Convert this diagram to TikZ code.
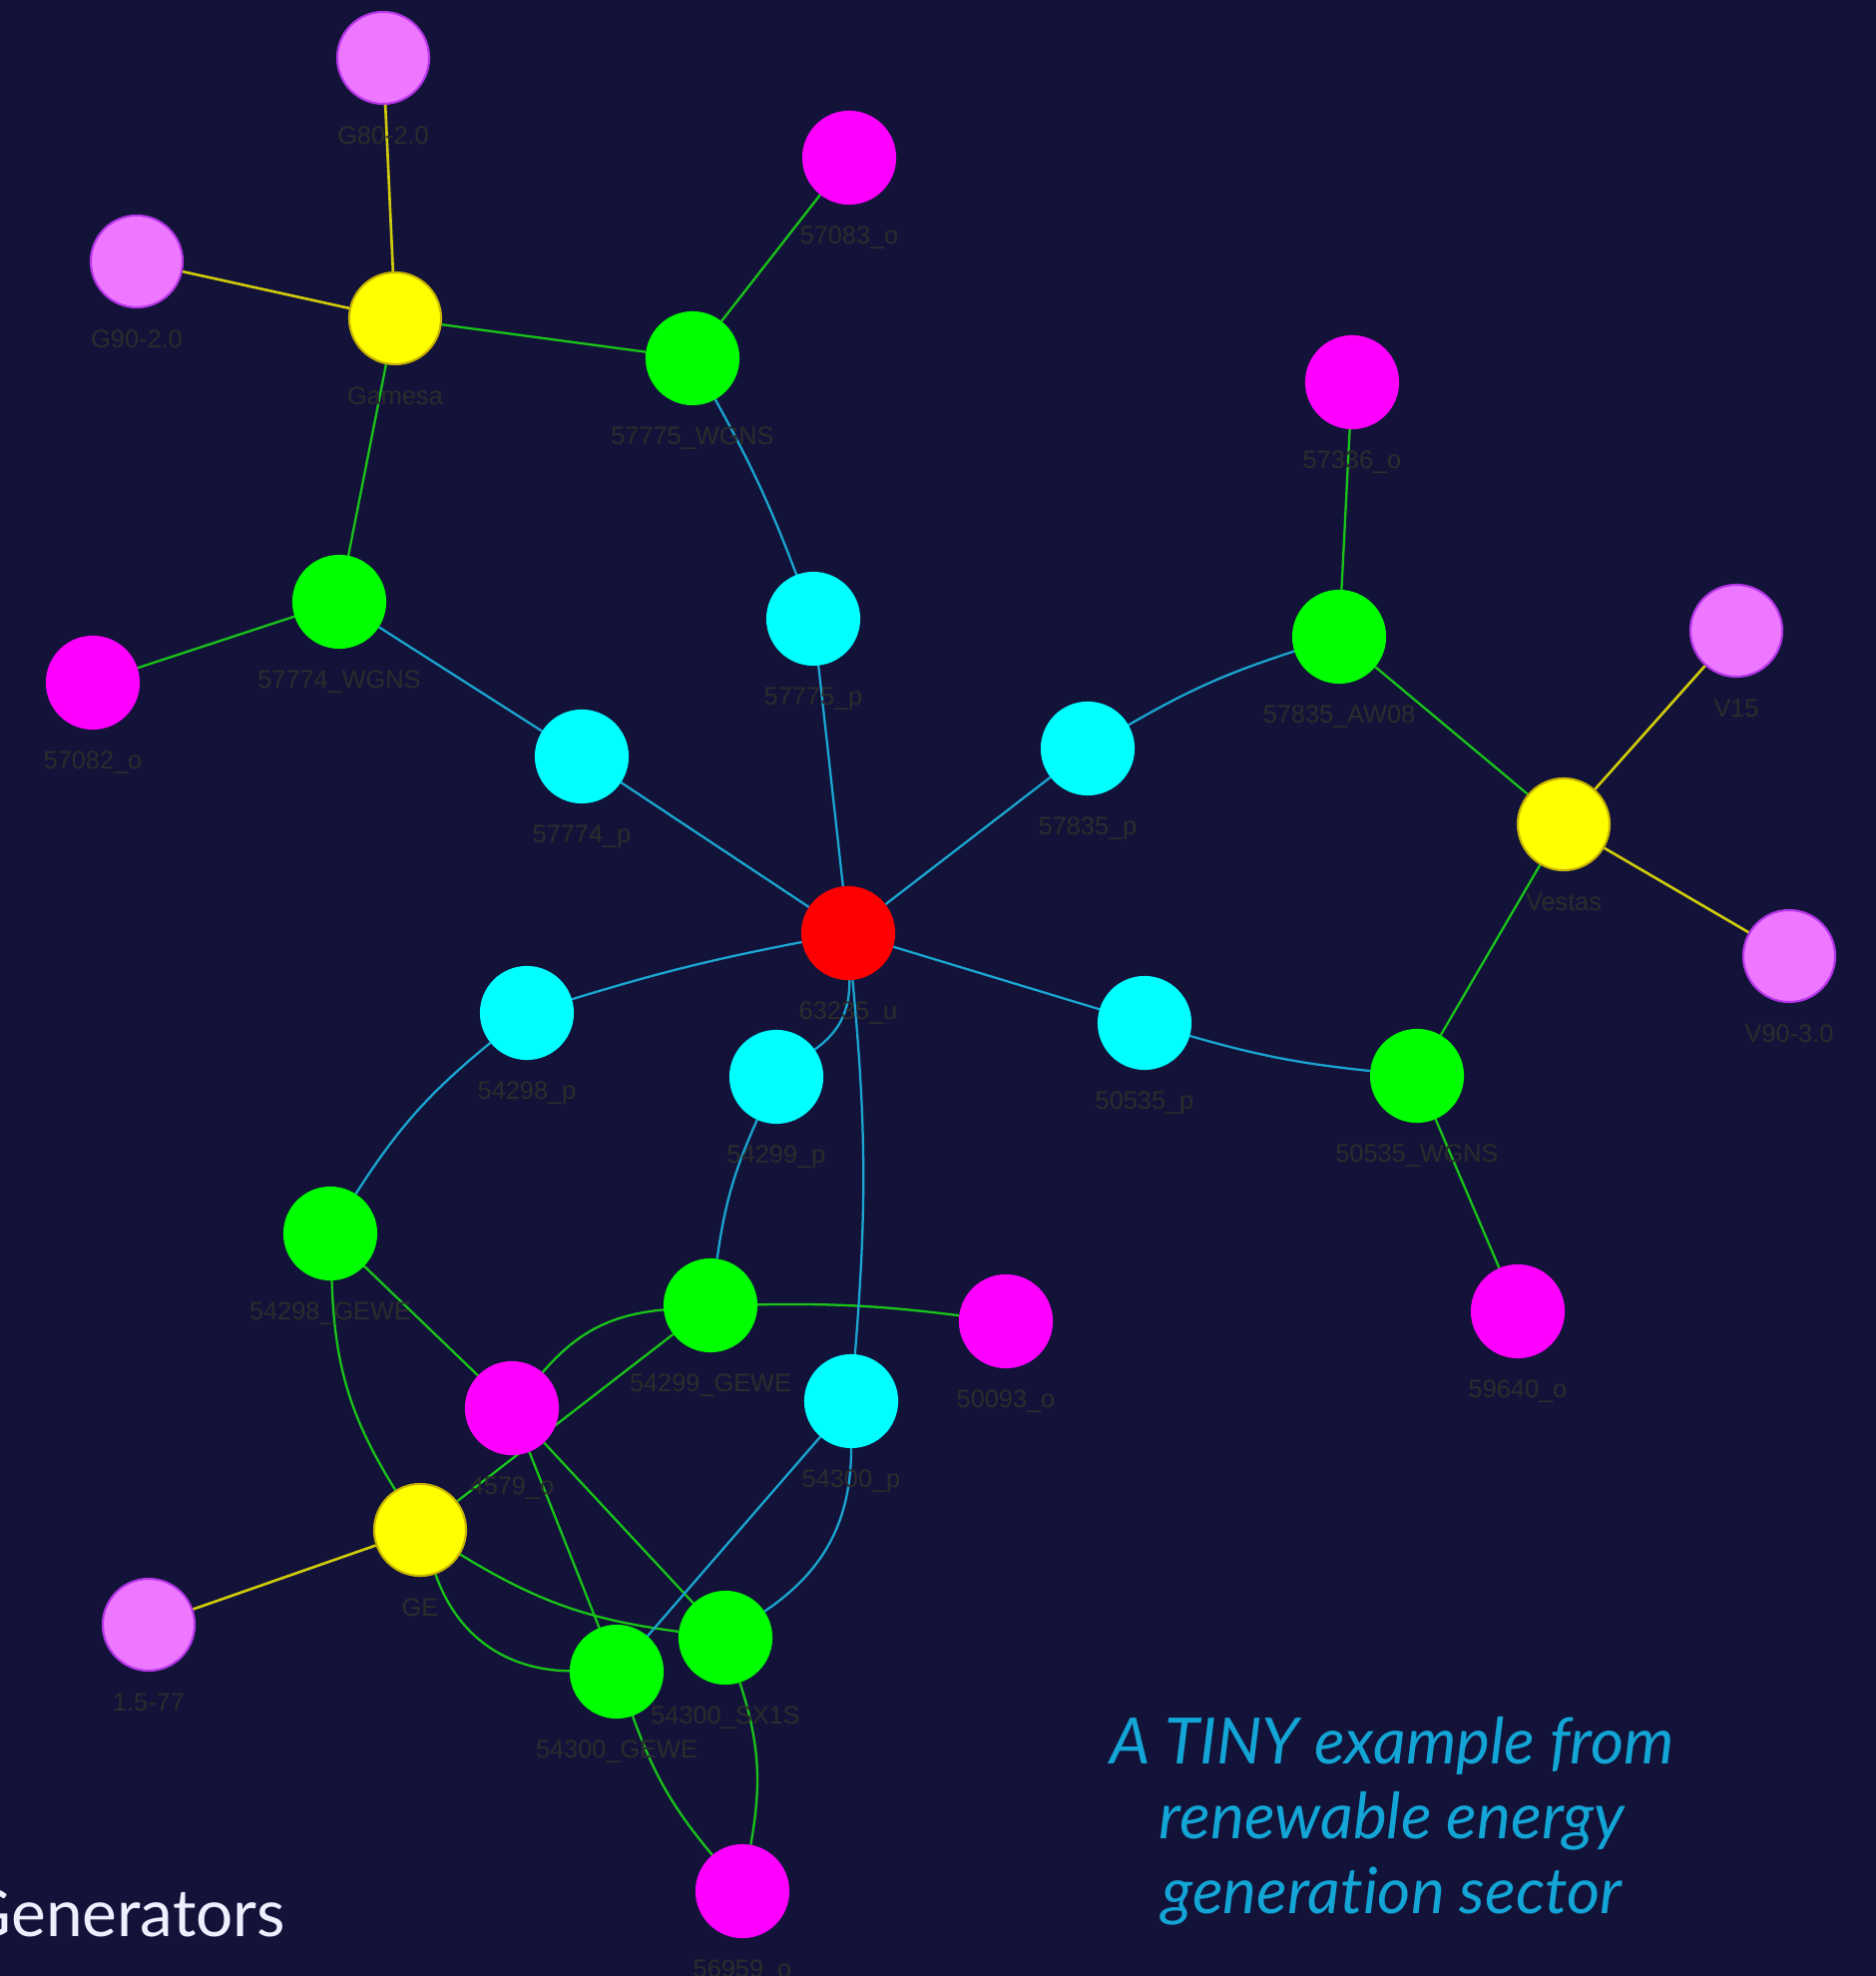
\documentclass[tikz,border=0pt]{standalone}
\usepackage{fontspec}
\setmainfont{Lato}[Ligatures={NoCommon}]
\newfontfamily\labelfont{Liberation Sans}
\usepackage{tikz}
\usetikzlibrary{backgrounds}
\definecolor{NightBg}{HTML}{13133A}
\definecolor{LabelGrey}{HTML}{2C2C2C}
\definecolor{TitleWhite}{HTML}{EEF0FF}
\definecolor{CaptionBlue}{HTML}{12A5D5}
\definecolor{UtilRed}{HTML}{FF0000}
\definecolor{PlantCyan}{HTML}{00FFFF}
\definecolor{UnitGreen}{HTML}{00FF00}
\definecolor{OwnerMagenta}{HTML}{FF00FF}
\definecolor{MakerYellow}{HTML}{FFFF00}
\definecolor{MakerEdge}{HTML}{C8B400}
\definecolor{ModelViolet}{HTML}{EE77FF}
\definecolor{ModelEdge}{HTML}{B535E8}
\definecolor{EdgeGreen}{HTML}{19C419}
\definecolor{EdgeCyan}{HTML}{1AA6D0}
\definecolor{EdgeYellow}{HTML}{CFCB0A}

\begin{document}
\begin{tikzpicture}[
  x=0.01cm, y=-0.01cm, label distance=2.1mm,
  vtx/.style={circle, minimum size=9.2mm, inner sep=0pt, line width=0.6pt},
  lbl/.style={font=\labelfont\fontsize{7.2}{8}\selectfont, text=LabelGrey,
              inner sep=0pt},
  util/.style={vtx, fill=UtilRed, draw=UtilRed},
  plant/.style={vtx, fill=PlantCyan, draw=PlantCyan},
  unit/.style={vtx, fill=UnitGreen, draw=UnitGreen},
  owner/.style={vtx, fill=OwnerMagenta, draw=OwnerMagenta},
  maker/.style={vtx, fill=MakerYellow, draw=MakerEdge},
  model/.style={vtx, fill=ModelViolet, draw=ModelEdge},
  grn/.style={draw=EdgeGreen, line width=0.65pt},
  cyn/.style={draw=EdgeCyan, line width=0.65pt},
  ylw/.style={draw=EdgeYellow, line width=0.75pt}
]
  \useasboundingbox (0,0) rectangle (1880,1980);
  \clip (0,0) rectangle (1880,1980);

  \node[model, label={[lbl]below:G80-2.0}] (g80) at (384,58) {};
  \node[model, label={[lbl]below:G90-2.0}] (g90) at (137,262) {};
  \node[model, label={[lbl]below:V15}] (v15) at (1740,632) {};
  \node[model, label={[lbl]below:V90-3.0}] (v90) at (1793,958) {};
  \node[model, label={[lbl]below:1.5-77}] (m1577) at (149,1628) {};

  \node[maker, label={[lbl]below:Gamesa}] (gamesa) at (396,319) {};
  \node[maker, label={[lbl]below:Vestas}] (vestas) at (1567,826) {};
  \node[maker, label={[lbl]below:GE}] (ge) at (421,1533) {};

  \node[owner, label={[lbl]below:57083\_o}] (o57083) at (851,158) {};
  \node[owner, label={[lbl]below:57336\_o}] (o57336) at (1355,383) {};
  \node[owner, label={[lbl]below:57082\_o}] (o57082) at (93,684) {};
  \node[owner, label={[lbl]below:50093\_o}] (o50093) at (1008,1324) {};
  \node[owner, label={[lbl]below:59640\_o}] (o59640) at (1521,1314) {};
  \node[owner, label={[lbl]below:4579\_o}] (o4579) at (513,1411) {};
  \node[owner, label={[lbl]below:56959\_o}] (o56959) at (744,1895) {};

  \node[unit, label={[lbl]below:57775\_WGNS}] (w57775) at (694,359) {};
  \node[unit, label={[lbl]below:57774\_WGNS}] (w57774) at (340,603) {};
  \node[unit, label={[lbl]below:57835\_AW08}] (a57835) at (1342,638) {};
  \node[unit, label={[lbl]below:50535\_WGNS}] (w50535) at (1420,1078) {};
  \node[unit, label={[lbl]below:54298\_GEWE}] (g54298) at (331,1236) {};
  \node[unit, label={[lbl]below:54299\_GEWE}] (g54299) at (712,1308) {};
  \node[unit, label={[lbl]below:54300\_SX1S}] (s54300) at (727,1641) {};
  \node[unit, label={[lbl]below:54300\_GEWE}] (g54300) at (618,1675) {};

  \node[plant, label={[lbl]below:57775\_p}] (p57775) at (815,620) {};
  \node[plant, label={[lbl]below:57774\_p}] (p57774) at (583,758) {};
  \node[plant, label={[lbl]below:57835\_p}] (p57835) at (1090,750) {};
  \node[plant, label={[lbl]below:54298\_p}] (p54298) at (528,1015) {};
  \node[plant, label={[lbl]below:50535\_p}] (p50535) at (1147,1025) {};
  \node[plant, label={[lbl]below:54299\_p}] (p54299) at (778,1079) {};
  \node[plant, label={[lbl]below:54300\_p}] (p54300) at (853,1404) {};

  \node[util, label={[lbl]below:63235\_u}] (u63235) at (850,935) {};

  \node[anchor=base west, inner sep=0pt, text=TitleWhite,
        font=\fontsize{18.7}{20}\selectfont] (gentitle) at (-37,1940)
    {Generators};
  \node[anchor=north, align=center, inner sep=0pt, text=CaptionBlue,
        font=\itshape\fontsize{18.2}{21.3}\selectfont] (caption) at (1395,1720)
    {A TINY example from\\renewable energy\\generation sector};

  \begin{scope}[on background layer]
    \fill[NightBg] (0,0) rectangle (1880,1980);
    \draw[ylw] (gamesa) -- (g80);
    \draw[ylw] (gamesa) -- (g90);
    \draw[ylw] (vestas) -- (v15);
    \draw[ylw] (vestas) -- (v90);
    \draw[ylw] (ge) -- (m1577);
    \draw[grn] (gamesa) -- (w57775);
    \draw[grn] (gamesa) -- (w57774);
    \draw[grn] (w57775) -- (o57083);
    \draw[grn] (w57774) -- (o57082);
    \draw[grn] (a57835) -- (o57336);
    \draw[grn] (a57835) -- (vestas);
    \draw[grn] (vestas) -- (w50535);
    \draw[grn] (w50535) -- (o59640);
    \draw[grn] (g54298) -- (o4579);
    \draw[grn] (g54298) to[bend right=15] (ge);
    \draw[grn] (g54299) to[bend right=22] (o4579);
    \draw[grn] (g54299) to[bend left=4] (o50093);
    \draw[grn] (g54299) -- (ge);
    \draw[grn] (o4579) -- (g54300);
    \draw[grn] (o4579) -- (s54300);
    \draw[grn] (ge) to[bend right=35] (g54300);
    \draw[grn] (ge) to[bend right=12] (s54300);
    \draw[grn] (g54300) to[bend right=10] (o56959);
    \draw[grn] (s54300) to[bend left=14] (o56959);
    \draw[cyn] (w57775) to[bend left=4] (p57775);
    \draw[cyn] (p57775) -- (u63235);
    \draw[cyn] (w57774) -- (p57774);
    \draw[cyn] (p57774) -- (u63235);
    \draw[cyn] (a57835) to[bend right=6] (p57835);
    \draw[cyn] (p57835) -- (u63235);
    \draw[cyn] (u63235) to[bend right=3] (p54298);
    \draw[cyn] (u63235) -- (p50535);
    \draw[cyn] (p50535) to[bend right=5] (w50535);
    \draw[cyn] (u63235) to[bend left=28] (p54299);
    \draw[cyn] (u63235) to[bend left=5] (p54300);
    \draw[cyn] (p54298) to[bend right=9] (g54298);
    \draw[cyn] (p54299) to[bend right=8] (g54299);
    \draw[cyn] (p54300) -- (g54300);
    \draw[cyn] (p54300) to[bend left=28] (s54300);
  \end{scope}
\end{tikzpicture}
\end{document}
